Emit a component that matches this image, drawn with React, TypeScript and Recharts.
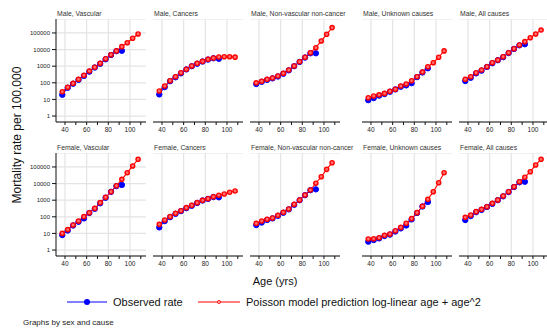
import { CartesianGrid, Line, LineChart, XAxis, YAxis } from "recharts"

const FONT = '"Liberation Sans", Arial, sans-serif'

const ages = [37.5, 42.5, 47.5, 52.5, 57.5, 62.5, 67.5, 72.5, 77.5, 82.5, 87.5, 92.5, 97.5, 102.5, 107.5]
const xTicks = [40, 50, 60, 70, 80, 90, 100, 110]
const xLabelled = [40, 60, 80, 100]
const yTicks = [1, 10, 100, 1000, 10000, 100000]

const titles = [
  "Male, Vascular",
  "Male, Cancers",
  "Male, Non-vascular non-cancer",
  "Male, Unknown causes",
  "Male, All causes",
  "Female, Vascular",
  "Female, Cancers",
  "Female, Non-vascular non-cancer",
  "Female, Unknown causes",
  "Female, All causes",
]

// observed rates per 100,000 (ages 37.5 .. 92.5)
const maleVascularObs = [19, 50, 88, 150, 260, 470, 830, 1400, 2600, 4700, 8000, 8500]
const maleCancersObs = [20, 55, 125, 215, 370, 640, 1000, 1400, 1900, 2500, 3000, 2800]
const maleNonVascObs = [85, 115, 150, 185, 240, 350, 560, 1000, 1800, 3300, 6000, 6000]
const maleUnknownObs = [9, 12, 17, 21, 29, 40, 58, 70, 95, 220, 420, 750]
const maleAllObs = [128, 200, 370, 540, 900, 1500, 2300, 3500, 6200, 11000, 18000, 21000]
const femaleVascularObs = [8, 15, 30, 50, 80, 170, 300, 650, 1400, 3200, 7000, 8300]
const femaleCancersObs = [23, 55, 95, 150, 220, 330, 460, 680, 960, 1200, 1550, 1490]
const femaleNonVascObs = [32, 45, 65, 80, 115, 175, 280, 530, 1000, 2000, 4000, 4500]
const femaleUnknownObs = [3.2, 4, 5, 7, 8.5, 13, 20, 30, 70, 170, 420, 780]
const femaleAllObs = [64, 110, 190, 260, 390, 600, 1000, 1700, 3100, 6200, 12000, 13000]

// Poisson model predictions (ages 37.5 .. 107.5)
const maleVascularPred = [29, 54, 93, 162, 282, 510, 860, 1480, 2800, 4900, 8300, 15000, 26000, 48000, 87000]
const maleCancersPred = [32, 64, 134, 233, 405, 650, 1030, 1490, 1960, 2600, 3100, 3560, 3700, 3700, 3500]
const maleNonVascPred = [100, 125, 162, 195, 257, 372, 590, 1030, 1860, 3450, 6500, 13000, 33000, 83000, 210000]
const maleUnknownPred = [12.6, 16, 19, 23, 31, 41, 64, 85, 134, 233, 445, 930, 1620, 3450, 8300]
const maleAllPred = [162, 233, 405, 590, 930, 1620, 2360, 3700, 6500, 11300, 19000, 30000, 52000, 87000, 150000]
const femaleVascularPred = [10, 17, 32, 56, 102, 177, 320, 710, 1490, 3250, 7400, 18000, 45000, 115000, 290000]
const femaleCancersPred = [35, 64, 102, 162, 233, 355, 490, 710, 980, 1230, 1620, 2000, 2350, 3000, 3560]
const femaleNonVascPred = [40, 56, 71, 85, 123, 186, 295, 560, 1030, 2050, 4100, 10500, 26000, 72000, 180000]
const femaleUnknownPred = [4.6, 4.8, 5.5, 7.7, 9.2, 14.5, 23, 41, 78, 178, 430, 1130, 3250, 11300, 45000]
const femaleAllPred = [93, 128, 204, 282, 405, 650, 1030, 1780, 3250, 6500, 13000, 24000, 52000, 132000, 290000]

const observed = [
  maleVascularObs, maleCancersObs, maleNonVascObs, maleUnknownObs, maleAllObs,
  femaleVascularObs, femaleCancersObs, femaleNonVascObs, femaleUnknownObs, femaleAllObs,
]
const predicted = [
  maleVascularPred, maleCancersPred, maleNonVascPred, maleUnknownPred, maleAllPred,
  femaleVascularPred, femaleCancersPred, femaleNonVascPred, femaleUnknownPred, femaleAllPred,
]

const colLeft = [56, 153, 250, 362, 459]
const rowTop = [19, 153]
const plotW = 90
const plotH = 103

function Panel({ index }: { index: number }) {
  const col = index % 5
  const row = Math.floor(index / 5)
  const first = col === 0
  const yw = first ? 40 : 0
  const data = ages.map((age, i) => ({
    age,
    obs: i < observed[index].length ? observed[index][i] : null,
    pred: predicted[index][i],
  }))
  const left = colLeft[col]
  const top = rowTop[row]

  return (
    <>
      <div
        style={{
          position: "absolute",
          left: left + 1,
          top: top - 9,
          fontSize: 6.8,
          lineHeight: "7px",
          color: "#333",
          whiteSpace: "nowrap",
        }}
      >
        {titles[index]}
      </div>
      <LineChart
        width={yw + plotW}
        height={plotH + 20}
        data={data}
        margin={{ top: 0, right: 0, bottom: 0, left: 0 }}
        style={{ position: "absolute", left: left - yw, top }}
      >
        <CartesianGrid stroke="#e4e4e4" strokeWidth={1.2} verticalValues={xLabelled} />
        <XAxis
          dataKey="age"
          type="number"
          domain={[31.7, 114.8]}
          allowDataOverflow
          ticks={xTicks}
          interval={0}
          tickFormatter={(v) => (xLabelled.includes(Number(v)) ? String(v) : "")}
          tickSize={3}
          tickMargin={2}
          height={20}
          tick={{ fontSize: 6.5, fill: "#222", fontFamily: FONT }}
          axisLine={{ stroke: "#111" }}
          tickLine={{ stroke: "#111" }}
        />
        <YAxis
          scale="log"
          type="number"
          domain={[0.437, 692000]}
          allowDataOverflow
          ticks={yTicks}
          interval={0}
          width={yw}
          tickSize={first ? 4 : 0}
          tickMargin={2}
          tick={first ? { fontSize: 6, fill: "#222", fontFamily: FONT } : false}
          axisLine={first ? { stroke: "#111" } : false}
          tickLine={first ? { stroke: "#111" } : false}
        />
        <Line
          dataKey="obs"
          stroke="#0000ff"
          strokeWidth={1}
          dot={{ r: 2.7, fill: "#0000ff", stroke: "#0000ff", strokeWidth: 1 }}
          activeDot={false}
          isAnimationActive={false}
          connectNulls={false}
        />
        <Line
          dataKey="pred"
          stroke="#ff0000"
          strokeWidth={1.1}
          dot={{ r: 2.1, fill: "#ff7070", stroke: "#ff0000", strokeWidth: 1.4 }}
          activeDot={false}
          isAnimationActive={false}
        />
      </LineChart>
    </>
  )
}

export default function App() {
  return (
    <div
      style={{
        position: "absolute",
        left: 0,
        top: 0,
        width: 547,
        height: 331,
        background: "#fff",
        overflow: "hidden",
        fontFamily: FONT,
      }}
    >
      {titles.map((_, i) => (
        <Panel key={i} index={i} />
      ))}
      <div
        style={{
          position: "absolute",
          left: 17,
          top: 135,
          transform: "translate(-50%, -50%) rotate(-90deg)",
          fontSize: 12,
          whiteSpace: "nowrap",
          color: "#111",
        }}
      >
        Mortality rate per 100,000
      </div>
      <div
        style={{
          position: "absolute",
          left: 275,
          top: 281,
          transform: "translate(-50%, -50%)",
          fontSize: 11,
          whiteSpace: "nowrap",
          color: "#111",
        }}
      >
        Age (yrs)
      </div>
      <svg width={547} height={20} style={{ position: "absolute", left: 0, top: 292 }}>
        <line x1={67} x2={107} y1={10} y2={10} stroke="#0000ff" strokeWidth={1.2} />
        <circle cx={87} cy={10} r={3} fill="#0000ff" />
        <text x={113} y={14} fontSize={11} fontFamily={FONT} fill="#111">
          Observed rate
        </text>
        <line x1={198} x2={240} y1={10} y2={10} stroke="#ff0000" strokeWidth={1.2} />
        <circle cx={219} cy={10} r={1.6} fill="#ffaaaa" stroke="#ff0000" strokeWidth={0.8} />
        <text x={246} y={14} fontSize={11} fontFamily={FONT} fill="#111">
          Poisson model prediction log-linear age + age^2
        </text>
      </svg>
      <div
        style={{
          position: "absolute",
          left: 23,
          top: 318,
          fontSize: 8,
          lineHeight: "10px",
          whiteSpace: "nowrap",
          color: "#222",
        }}
      >
        Graphs by sex and cause
      </div>
    </div>
  )
}
